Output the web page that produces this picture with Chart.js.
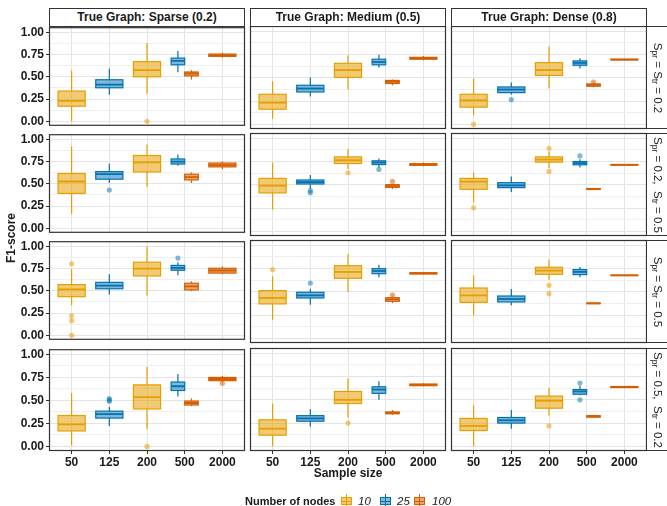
<!DOCTYPE html>
<html>
<head>
<meta charset="utf-8">
<script src="https://cdn.jsdelivr.net/npm/chart.js@4.4.1/dist/chart.umd.min.js"></script>
<style>
  body { margin: 0; width: 667px; height: 506px; overflow: hidden; background: #fff; position: relative;
         font-family: "Liberation Sans", Arial, sans-serif; color: #1a1a1a; }
  canvas { position: absolute; }
  .strip { position: absolute; box-sizing: border-box; border: 1px solid #333; background: #fff;
           font-weight: bold; font-size: 12px; text-align: center; line-height: 16px; }
  .rstrip { position: absolute; box-sizing: border-box; border: 1px solid #333; background: #fff; }
  .rtext { position: absolute; left: 50%; top: 50%; width: 103px; height: 16px; margin-left: -56px; margin-top: -8px;
           transform: rotate(90deg); text-align: center; font-size: 11.5px; line-height: 16px; white-space: nowrap; color: #222; }
  .rtext sub { font-size: 8.5px; vertical-align: -2px; line-height: 0; }
  .lab { position: absolute; font-size: 12px; white-space: nowrap; }
  .key { position: absolute; width: 11px; height: 14px; }
  .key .wh { position: absolute; left: 5px; width: 1px; top: 0; height: 14px; }
  .key .bx { position: absolute; left: 0; top: 3px; width: 11px; height: 8px; box-sizing: border-box; border: 1px solid; }
  .key .md { position: absolute; left: 0; top: 6.5px; width: 11px; height: 1.3px; }
</style>
</head>
<body>
<script>
// categories
const sampleSizes = ['50', '125', '200', '500', '2000'];
const nodeLevels = ['10', '25', '100'];
// which box sits where (one row of stats per box, in this order)
const boxSize  = ['50', '125', '200', '500', '500', '2000'];
const boxNodes = ['10', '25', '10', '25', '100', '100'];

const colTitles = ['True Graph: Sparse (0.2)', 'True Graph: Medium (0.5)', 'True Graph: Dense (0.8)'];
const rowTitles = [
  'S<sub>pr</sub> = S<sub>tr</sub> = 0.2',
  'S<sub>pr</sub> = 0.2,&nbsp; S<sub>tr</sub> = 0.5',
  'S<sub>pr</sub> = S<sub>tr</sub> = 0.5',
  'S<sub>pr</sub> = 0.5,&nbsp; S<sub>tr</sub> = 0.2'
];
const yTicks = [0, 0.125, 0.25, 0.375, 0.5, 0.625, 0.75, 0.875, 1];

// box stats: [lower whisker, q1, median, q3, upper whisker]
const r1Sparse = [[0.00, 0.17, 0.23, 0.34, 0.57], [0.30, 0.377, 0.413, 0.467, 0.59], [0.31, 0.50, 0.575, 0.67, 0.88],
                  [0.55, 0.635, 0.678, 0.71, 0.79], [0.47, 0.51, 0.537, 0.554, 0.573], [0.715, 0.73, 0.742, 0.755, 0.77]];
const r1Medium = [[0.06, 0.163, 0.233, 0.323, 0.464], [0.30, 0.348, 0.385, 0.42, 0.504], [0.374, 0.504, 0.584, 0.656, 0.743],
                  [0.61, 0.64, 0.67, 0.70, 0.747], [0.42, 0.439, 0.457, 0.472, 0.483], [0.69, 0.70, 0.71, 0.72, 0.735]];
const r1Dense  = [[0.095, 0.185, 0.258, 0.323, 0.493], [0.32, 0.341, 0.374, 0.402, 0.45], [0.385, 0.526, 0.584, 0.663, 0.837],
                  [0.60, 0.635, 0.66, 0.682, 0.71], [0.40, 0.41, 0.42, 0.435, 0.446], [0.69, 0.693, 0.696, 0.70, 0.703]];
const r2Sparse = [[0.163, 0.392, 0.526, 0.616, 0.918], [0.509, 0.552, 0.608, 0.637, 0.729], [0.466, 0.633, 0.74, 0.818, 0.942],
                  [0.704, 0.722, 0.75, 0.779, 0.829], [0.509, 0.544, 0.576, 0.608, 0.626], [0.665, 0.69, 0.71, 0.733, 0.75]];
const r2Medium = [[0.232, 0.413, 0.491, 0.569, 0.74], [0.456, 0.509, 0.53, 0.552, 0.605], [0.669, 0.729, 0.765, 0.80, 0.889],
                  [0.686, 0.718, 0.74, 0.758, 0.782], [0.456, 0.473, 0.488, 0.502, 0.509], [0.70, 0.71, 0.718, 0.727, 0.74]];
const r2Dense  = [[0.313, 0.452, 0.534, 0.569, 0.633], [0.424, 0.47, 0.494, 0.523, 0.59], [0.68, 0.744, 0.772, 0.80, 0.857],
                  [0.686, 0.715, 0.733, 0.75, 0.776], [0.445, 0.45, 0.455, 0.46, 0.465], [0.71, 0.712, 0.715, 0.718, 0.72]];
const r3Sparse = [[0.338, 0.434, 0.516, 0.57, 0.746], [0.459, 0.523, 0.559, 0.595, 0.685], [0.445, 0.667, 0.749, 0.821, 0.997],
                  [0.674, 0.731, 0.757, 0.785, 0.821], [0.495, 0.51, 0.549, 0.585, 0.606], [0.685, 0.699, 0.728, 0.753, 0.774]];
const r3Medium = [[0.201, 0.37, 0.434, 0.513, 0.667], [0.362, 0.434, 0.462, 0.495, 0.534], [0.499, 0.645, 0.714, 0.781, 0.907],
                  [0.656, 0.695, 0.724, 0.749, 0.792], [0.38, 0.398, 0.419, 0.437, 0.448], [0.685, 0.692, 0.699, 0.705, 0.71]];
const r3Dense  = [[0.247, 0.387, 0.462, 0.541, 0.677], [0.355, 0.391, 0.423, 0.455, 0.531], [0.631, 0.688, 0.728, 0.764, 0.846],
                  [0.656, 0.685, 0.714, 0.739, 0.767], [0.37, 0.373, 0.376, 0.379, 0.382], [0.672, 0.675, 0.677, 0.679, 0.682]];
const r4Sparse = [[0.007, 0.168, 0.24, 0.336, 0.579], [0.222, 0.308, 0.35, 0.383, 0.43], [0.186, 0.407, 0.536, 0.669, 0.865],
                  [0.543, 0.608, 0.654, 0.70, 0.786], [0.436, 0.45, 0.472, 0.493, 0.52], [0.708, 0.715, 0.733, 0.75, 0.765]];
const r4Medium = [[0.0, 0.12, 0.19, 0.285, 0.46], [0.21, 0.27, 0.30, 0.33, 0.40], [0.31, 0.46, 0.50, 0.59, 0.73],
                  [0.50, 0.57, 0.61, 0.64, 0.70], [0.34, 0.35, 0.36, 0.37, 0.39], [0.645, 0.652, 0.66, 0.67, 0.675]];
const r4Dense  = [[0.0, 0.17, 0.22, 0.30, 0.44], [0.19, 0.25, 0.28, 0.31, 0.39], [0.33, 0.41, 0.49, 0.54, 0.63],
                  [0.55, 0.56, 0.59, 0.61, 0.65], [0.31, 0.315, 0.32, 0.33, 0.34], [0.625, 0.632, 0.638, 0.643, 0.648]];

// outliers: [box index, value]
const r1SparseOut = [[2, 0.0]];
const r1MediumOut = [];
const r1DenseOut  = [[0, 0.0], [1, 0.265], [4, 0.453]];
const r2SparseOut = [[1, 0.43]];
const r2MediumOut = [[1, 0.437], [1, 0.416], [2, 0.63], [3, 0.665], [4, 0.537]];
const r2DenseOut  = [[0, 0.253], [2, 0.893], [2, 0.644], [3, 0.811]];
const r3SparseOut = [[0, 0.803], [0, 0.219], [0, 0.165], [0, 0.0], [3, 0.868]];
const r3MediumOut = [[0, 0.739], [1, 0.595], [4, 0.466]];
const r3DenseOut  = [[2, 0.57], [2, 0.48]];
const r4SparseOut = [[1, 0.52], [1, 0.505], [1, 0.49], [2, 0.0], [5, 0.686]];
const r4MediumOut = [[2, 0.25]];
const r4DenseOut  = [[2, 0.22], [3, 0.68], [3, 0.50]];

const panelStats = [[r1Sparse, r1Medium, r1Dense], [r2Sparse, r2Medium, r2Dense],
                    [r3Sparse, r3Medium, r3Dense], [r4Sparse, r4Medium, r4Dense]];
const panelOut = [[r1SparseOut, r1MediumOut, r1DenseOut], [r2SparseOut, r2MediumOut, r2DenseOut],
                  [r3SparseOut, r3MediumOut, r3DenseOut], [r4SparseOut, r4MediumOut, r4DenseOut]];

// styles
const lineColors  = ['#E69F00', '#0072B2', '#D55E00'];
const fillColors  = ['rgba(230,159,0,0.55)', 'rgba(0,114,178,0.5)', 'rgba(213,94,0,0.55)'];
const pointColors = ['rgba(230,159,0,0.55)', 'rgba(0,114,178,0.5)', 'rgba(213,94,0,0.55)'];

// layout
const colX = [49, 250, 451];
const rowY = [26, 133, 240, 348];
const panelW = 196, panelH = 103;
const dodgeW = 0.72;

Chart.defaults.font.family = "'Liberation Sans', Arial, sans-serif";
Chart.defaults.font.size = 12;
Chart.defaults.font.weight = 'bold';
Chart.defaults.color = '#1a1a1a';

function boxSlot(i) {
  const sibs = [];
  boxSize.forEach((s, j) => { if (s === boxSize[i]) sibs.push(j); });
  const n = sibs.length, k = sibs.indexOf(i);
  const w = dodgeW / n;
  const center = sampleSizes.indexOf(boxSize[i]) - dodgeW / 2 + (k + 0.5) * w;
  return { center, w };
}
const isMajor = v => Math.abs(v * 4 - Math.round(v * 4)) < 1e-6;

const boxPlugin = {
  id: 'boxes',
  beforeDatasetsDraw(chart, args, opts) {
    const { ctx, chartArea } = chart;
    const x = chart.scales.x, y = chart.scales.y;
    ctx.save();
    ctx.beginPath();
    ctx.rect(chartArea.left, chartArea.top, chartArea.width, chartArea.height);
    ctx.clip();
    opts.stats.forEach((s, i) => {
      const g = nodeLevels.indexOf(boxNodes[i]);
      const slot = boxSlot(i);
      const x0 = x.getPixelForValue(slot.center - slot.w / 2);
      const x1 = x.getPixelForValue(slot.center + slot.w / 2);
      const xm = x.getPixelForValue(slot.center);
      const [lo, q1, md, q3, hi] = s.map(v => y.getPixelForValue(v));
      ctx.strokeStyle = lineColors[g];
      ctx.lineWidth = 1.2;
      ctx.beginPath();
      ctx.moveTo(xm, lo); ctx.lineTo(xm, q1);
      ctx.moveTo(xm, q3); ctx.lineTo(xm, hi);
      ctx.stroke();
      ctx.fillStyle = fillColors[g];
      ctx.fillRect(x0, q3, x1 - x0, q1 - q3);
      ctx.strokeRect(x0, q3, x1 - x0, q1 - q3);
      ctx.lineWidth = 1.8;
      ctx.beginPath();
      ctx.moveTo(x0, md); ctx.lineTo(x1, md);
      ctx.stroke();
    });
    ctx.restore();
  },
  afterDraw(chart) {
    const { ctx, chartArea } = chart;
    ctx.save();
    ctx.strokeStyle = '#333';
    ctx.lineWidth = 1.2;
    ctx.strokeRect(chartArea.left + 0.5, chartArea.top + 0.5, chartArea.width - 1, chartArea.height - 1);
    ctx.restore();
  }
};

function makePanel(r, c) {
  const left = c === 0 ? 49 : 6, right = 6, top = 8, bottom = r === 3 ? 20 : 6;
  const cv = document.createElement('canvas');
  cv.width = panelW + left + right;
  cv.height = panelH + top + bottom;
  cv.style.left = (colX[c] - left) + 'px';
  cv.style.top = (rowY[r] - top) + 'px';
  document.body.appendChild(cv);

  const stats = panelStats[r][c];
  const out = panelOut[r][c];
  const points = out.map(o => ({ x: boxSlot(o[0]).center, y: o[1] }));
  const pColors = out.map(o => pointColors[nodeLevels.indexOf(boxNodes[o[0]])]);

  new Chart(cv, {
    type: 'scatter',
    data: { datasets: [{ data: points, pointRadius: 2.6, pointBackgroundColor: pColors, pointBorderWidth: 0, pointHoverRadius: 2.6 }] },
    options: {
      responsive: false,
      animation: false,
      devicePixelRatio: 1,
      layout: { padding: { left: c === 0 ? 0 : 6, right: 6, top: 8, bottom: r === 3 ? 0 : 6 } },
      plugins: { legend: { display: false }, tooltip: { enabled: false }, boxes: { stats } },
      scales: {
        x: {
          type: 'linear', min: -0.6, max: sampleSizes.length - 0.4,
          afterBuildTicks: a => { a.ticks = sampleSizes.map((s, i) => ({ value: i })); },
          afterFit: a => { a.height = r === 3 ? 20 : 0; },
          border: { display: false },
          grid: { color: '#E4E4E4', lineWidth: 1, drawTicks: r === 3, tickLength: 3, tickColor: '#333' },
          ticks: { display: r === 3, autoSkip: false, maxRotation: 0, padding: 1,
                   callback: v => sampleSizes[v] !== undefined ? sampleSizes[v] : '' }
        },
        y: {
          min: -0.05, max: 1.057,
          afterBuildTicks: a => { a.ticks = yTicks.map(v => ({ value: v })); },
          afterFit: a => { a.width = c === 0 ? 49 : 0; },
          border: { display: false },
          grid: {
            color: ctx => isMajor(ctx.tick.value) ? '#E4E4E4' : '#EFEFEF',
            lineWidth: 1,
            drawTicks: c === 0, tickLength: 3,
            tickColor: ctx => isMajor(ctx.tick.value) ? '#333' : 'rgba(0,0,0,0)'
          },
          ticks: { display: c === 0, autoSkip: false, padding: 2,
                   callback: v => isMajor(v) ? v.toFixed(2) : '' }
        }
      }
    },
    plugins: [boxPlugin]
  });
}

for (let r = 0; r < 4; r++) for (let c = 0; c < 3; c++) makePanel(r, c);

// column strips
colTitles.forEach((t, c) => {
  const d = document.createElement('div');
  d.className = 'strip';
  d.style.left = colX[c] + 'px';
  d.style.top = '8px';
  d.style.width = panelW + 'px';
  d.style.height = '19px';
  d.textContent = t;
  document.body.appendChild(d);
});

// row strips
rowTitles.forEach((t, r) => {
  const d = document.createElement('div');
  d.className = 'rstrip';
  d.style.left = (colX[2] + panelW - 1) + 'px';
  d.style.top = rowY[r] + 'px';
  d.style.width = '32px';
  d.style.height = panelH + 'px';
  const s = document.createElement('div');
  s.className = 'rtext';
  s.innerHTML = t;
  d.appendChild(s);
  document.body.appendChild(d);
});

// axis titles
function label(text, x, y, extra) {
  const d = document.createElement('div');
  d.className = 'lab';
  d.textContent = text;
  d.style.left = x + 'px';
  d.style.top = y + 'px';
  Object.assign(d.style, extra || {});
  document.body.appendChild(d);
  return d;
}
label('F1-score', 11, 238, { fontWeight: 'bold', transform: 'translate(-50%,-50%) rotate(-90deg)' });
label('Sample size', (colX[0] + colX[2] + panelW) / 2, 473, { fontWeight: 'bold', transform: 'translate(-50%,-50%)' });

// legend
label('Number of nodes', 245, 501, { fontWeight: 'bold', fontSize: '11px', transform: 'translateY(-50%)' });
const keyX = [341, 380, 414];
const keyLabelX = [358, 397, 432];
nodeLevels.forEach((n, g) => {
  const k = document.createElement('div');
  k.className = 'key';
  k.style.left = keyX[g] + 'px';
  k.style.top = '494px';
  k.innerHTML = '<div class="wh"></div><div class="bx"></div><div class="md"></div>';
  k.children[0].style.background = lineColors[g];
  k.children[1].style.background = fillColors[g];
  k.children[1].style.borderColor = lineColors[g];
  k.children[2].style.background = lineColors[g];
  document.body.appendChild(k);
  label(n, keyLabelX[g], 501, { fontStyle: 'italic', fontSize: '11.5px', transform: 'translateY(-50%)' });
});
</script>
</body>
</html>
